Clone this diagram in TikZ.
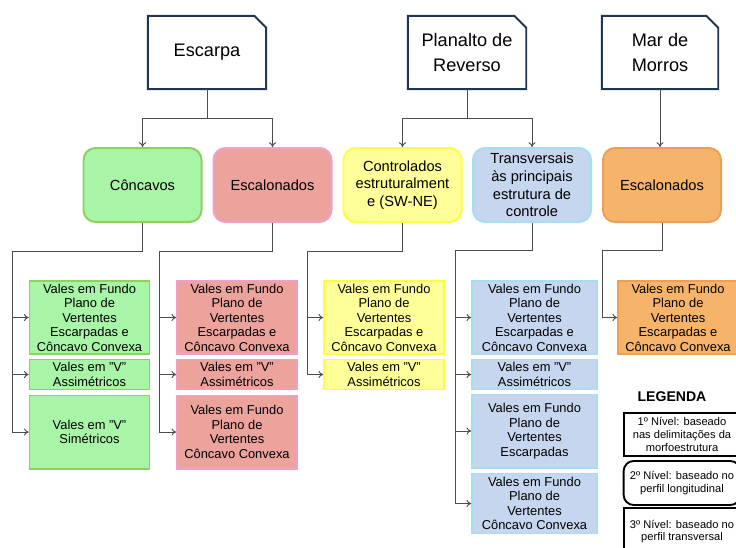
\documentclass[tikz,border=0pt]{standalone}
\usepackage{fontspec}
\setmainfont{Liberation Sans}
\usepackage{tikz}
\usepackage{xcolor}
\usetikzlibrary{arrows.meta}

\definecolor{azulE}{HTML}{1F3550}
\definecolor{verdeF}{HTML}{A8F5A8}
\definecolor{verdeB}{HTML}{90D060}
\definecolor{rosaF}{HTML}{EBA39C}
\definecolor{rosaB}{HTML}{F0A0C8}
\definecolor{amarF}{HTML}{FFFF99}
\definecolor{amarB}{HTML}{FFFF40}
\definecolor{azulF}{HTML}{C6D6EE}
\definecolor{azulB}{HTML}{A8DDF0}
\definecolor{laraF}{HTML}{F5B46A}
\definecolor{laraB}{HTML}{EDA055}

\tikzset{
  nivelum/.style={minimum width=3.54cm,minimum height=2.19cm,align=center,
    font=\fontsize{15.5}{21}\selectfont},
  nivelum box/.style={draw=azulE,line width=1.7pt},
  niveldois/.style={rounded corners=0.36cm,line width=1.7pt,minimum width=3.54cm,
    minimum height=2.22cm,align=center,inner sep=1pt,font=\fontsize{12.5}{15}\selectfont},
  niveltres/.style={line width=1.4pt,minimum width=3.6cm,align=center,inner sep=0pt,
    font=\fontsize{11}{12.4}\selectfont},
  alto/.style={minimum height=2.2cm},
  baixo/.style={minimum height=0.9cm},
  legenda/.style={draw=black,line width=1.6pt,minimum width=3.5cm,align=center,
    inner sep=1pt,font=\fontsize{9.5}{10.8}\selectfont},
  liga/.style={draw=gray!60!black,line width=0.8pt},
  seta/.style={liga,-{To[length=4pt,width=6pt]}},
}

\begin{document}
\begin{tikzpicture}[x=0.03cm,y=-0.03cm]
\useasboundingbox (0,0) rectangle (736,547);
\node[nivelum] (esc) at (207,52.5) {Escarpa};
\node[nivelum] (pla) at (467,52.5) {Planalto de\\Reverso};
\node[nivelum,minimum width=3.48cm] (mar) at (660,52.5) {Mar de\\Morros};
\foreach \n in {esc,pla,mar}
\draw[nivelum box] (\n.south west) -- (\n.north west) -- ([xshift=-0.36cm]\n.north east)
  -- ([yshift=-0.36cm]\n.north east) -- (\n.south east) -- cycle;
\node[niveldois,fill=verdeF,draw=verdeB] (conc) at (142.5,185) {Côncavos};
\node[niveldois,fill=rosaF,draw=rosaB] (escal) at (272.5,185) {Escalonados};
\node[niveldois,fill=amarF,draw=amarB] (contr) at (402.5,185) {Controlados\\estruturalment\\e (SW-NE)};
\node[niveldois,fill=azulF,draw=azulB] (transv) at (532,185) {Transversais\\às principais\\estrutura de\\controle};
\node[niveldois,fill=laraF,draw=laraB] (escm) at (662,185) {Escalonados};
\draw[seta] (esc.south) -- ++(0,29) -| (conc.north);
\draw[seta] (esc.south) -- ++(0,29) -| (escal.north);
\draw[seta] (pla.south) -- ++(0,29) -| (contr.north);
\draw[seta] (pla.south) -- ++(0,29) -| (transv.north);
\draw[seta] (mar.south) -- (mar.south |- escm.north);
\node[niveltres,alto,fill=verdeF,draw=verdeB] (c1) at (89.5,317.5) {Vales em Fundo\\Plano de\\Vertentes\\Escarpadas e\\Côncavo Convexa};
\node[niveltres,baixo,fill=verdeF,draw=verdeB] (c2) at (89.5,374.5) {Vales em "V"\\Assimétricos};
\node[niveltres,alto,fill=verdeF,draw=verdeB] (c3) at (89.5,432) {Vales em "V"\\Simétricos};
\node[niveltres,alto,fill=rosaF,draw=rosaB] (p1) at (237,317.5) {Vales em Fundo\\Plano de\\Vertentes\\Escarpadas e\\Côncavo Convexa};
\node[niveltres,baixo,fill=rosaF,draw=rosaB] (p2) at (237,374.5) {Vales em "V"\\Assimétricos};
\node[niveltres,alto,fill=rosaF,draw=rosaB] (p3) at (237,432) {Vales em Fundo\\Plano de\\Vertentes\\Côncavo Convexa};
\node[niveltres,alto,fill=amarF,draw=amarB] (a1) at (384,317.5) {Vales em Fundo\\Plano de\\Vertentes\\Escarpadas e\\Côncavo Convexa};
\node[niveltres,baixo,fill=amarF,draw=amarB] (a2) at (384,374.5) {Vales em "V"\\Assimétricos};
\node[niveltres,alto,minimum width=3.75cm,fill=azulF,draw=azulB] (b1) at (534.5,317.5) {Vales em Fundo\\Plano de\\Vertentes\\Escarpadas e\\Côncavo Convexa};
\node[niveltres,baixo,minimum width=3.75cm,fill=azulF,draw=azulB] (b2) at (534.5,374.5) {Vales em "V"\\Assimétricos};
\node[niveltres,alto,minimum width=3.75cm,fill=azulF,draw=azulB] (b3) at (534.5,431) {Vales em Fundo\\Plano de\\Vertentes\\Escarpadas};
\node[niveltres,minimum height=1.8cm,minimum width=3.75cm,fill=azulF,draw=azulB] (b4) at (534.5,503.5) {Vales em Fundo\\Plano de\\Vertentes\\Côncavo Convexa};
\node[niveltres,alto,fill=laraF,draw=laraB] (l1) at (678,317.5) {Vales em Fundo\\Plano de\\Vertentes\\Escarpadas e\\Côncavo Convexa};
\coordinate (tc) at (12,251);
\coordinate (tp) at (159,251);
\coordinate (ta) at (307,251);
\coordinate (tb) at (455,250);
\coordinate (tl) at (602,250);
\draw[liga] (conc.south) |- (tc) -- (tc |- c3.west);
\draw[liga] (escal.south) |- (tp) -- (tp |- p3.west);
\draw[liga] (contr.south) |- (ta) -- (ta |- a2.west);
\draw[liga] (transv.south) |- (tb) -- (tb |- b4.west);
\draw[liga] (escm.south) |- (tl) -- (tl |- l1.west);
\foreach \b in {c1,c2,c3}
\draw[seta] (tc |- \b.west) -- (\b.west);
\foreach \b in {p1,p2,p3}
\draw[seta] (tp |- \b.west) -- (\b.west);
\foreach \b in {a1,a2}
\draw[seta] (ta |- \b.west) -- (\b.west);
\foreach \b in {b1,b2,b3,b4}
\draw[seta] (tb |- \b.west) -- (\b.west);
\draw[seta] (tl |- l1.west) -- (l1.west);
\node[font=\bfseries\fontsize{12}{14}\selectfont] (leg) at (672,397) {LEGENDA};
\node[legenda,minimum height=1.29cm] (n1) at (682,434.5) {1º Nível: baseado\\nas delimitações da\\morfoestrutura};
\node[legenda,minimum height=1.32cm,rounded corners=0.3cm] (n2) at (682,483) {2º Nível: baseado no\\perfil longitudinal};
\node[legenda,minimum height=1.41cm] (n3) at (682,531.5) {3º Nível: baseado no\\perfil transversal};
\end{tikzpicture}
\end{document}
